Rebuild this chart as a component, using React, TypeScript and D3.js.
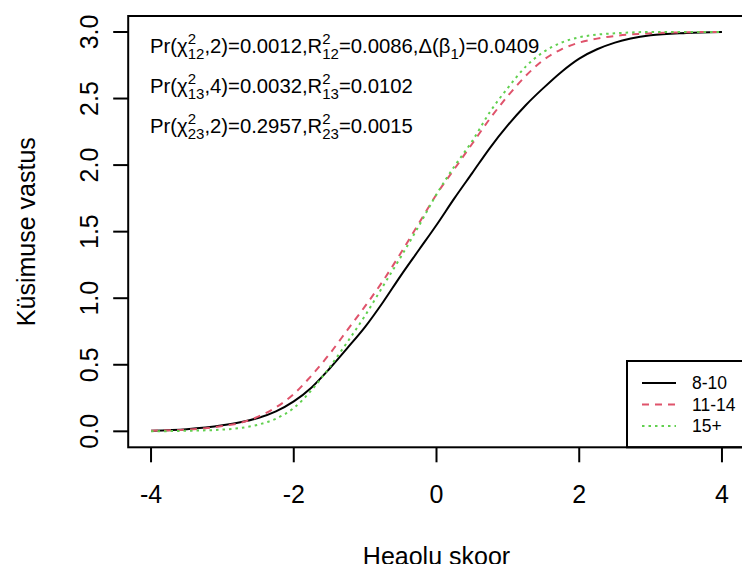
import React from "react";
import * as d3 from "d3";

const xGrid = [-4, -3.5, -3, -2.75, -2.5, -2.25, -2, -1.75, -1.5, -1.25, -1, -0.75, -0.5, -0.25, 0, 0.25, 0.5, 0.75, 1, 1.25, 1.5, 1.75, 2, 2.25, 2.5, 3, 3.5, 4];

const series810 = [0.005, 0.016, 0.045, 0.068, 0.1, 0.15, 0.225, 0.33, 0.47, 0.625, 0.785, 0.97, 1.17, 1.36, 1.55, 1.75, 1.94, 2.13, 2.3, 2.45, 2.58, 2.7, 2.8, 2.87, 2.92, 2.975, 2.993, 3.0];
const series1114 = [0.005, 0.012, 0.04, 0.063, 0.11, 0.18, 0.28, 0.42, 0.58, 0.76, 0.94, 1.13, 1.34, 1.56, 1.78, 1.97, 2.16, 2.35, 2.52, 2.67, 2.79, 2.87, 2.92, 2.95, 2.97, 2.99, 2.998, 3.0];
const series15 = [0.0, 0.004, 0.013, 0.025, 0.05, 0.095, 0.175, 0.31, 0.48, 0.67, 0.87, 1.09, 1.31, 1.54, 1.78, 1.99, 2.18, 2.4, 2.58, 2.74, 2.85, 2.92, 2.96, 2.98, 2.99, 3.0, 3.0, 3.0];

const seriesNames = ["8-10", "11-14", "15+"];
const seriesColors = ["#000000", "#DF536B", "#61D04F"];
const seriesDash = ["none", "7,6", "2.5,4"];

const xTicks = [-4, -2, 0, 2, 4];
const yTicks = [0, 0.5, 1, 1.5, 2, 2.5, 3];
const xLabel = "Heaolu skoor";
const yLabel = "Küsimuse vastus";

const FONT = "'Liberation Sans', Arial, Helvetica, sans-serif";

export default function App() {
  const W = 742, H = 564;
  const xDom = [-4, 4];
  const yDom = [0, 3];
  const xPad = (xDom[1] - xDom[0]) * 0.04;
  const yPad = (yDom[1] - yDom[0]) * 0.04;
  const left = 128.2, right = 744.8, top = 16, bottom = 447.3;
  const x = d3.scaleLinear().domain([xDom[0] - xPad, xDom[1] + xPad]).range([left, right]);
  const y = d3.scaleLinear().domain([yDom[0] - yPad, yDom[1] + yPad]).range([bottom, top]);

  const allSeries = [series810, series1114, series15];
  const line = d3
    .line<[number, number]>()
    .x((d) => x(d[0]))
    .y((d) => y(d[1]))
    .curve(d3.curveMonotoneX);

  const supSize = 15;
  const mainSize = 20.3;
  const supW = 0.556 * supSize;

  const Chi = ({ sub }: { sub: string }) => (
    <>
      <tspan>χ</tspan>
      <tspan fontSize={supSize} dy={-9}>2</tspan>
      <tspan fontSize={supSize} dx={-supW} dy={15}>{sub}</tspan>
      <tspan dy={-6}>,</tspan>
    </>
  );
  const R2 = ({ sub }: { sub: string }) => (
    <>
      <tspan>R</tspan>
      <tspan fontSize={supSize} dy={-9}>2</tspan>
      <tspan fontSize={supSize} dx={-supW} dy={15}>{sub}</tspan>
      <tspan dy={-6}>=</tspan>
    </>
  );

  const legendTop = 361;
  const legendRows = [383, 404.5, 426];

  return (
    <div style={{ position: "absolute", left: 0, top: 0, width: W, height: H, background: "#fff" }}>
      <svg width={W} height={H} style={{ display: "block" }} fontFamily={FONT}>
        <rect x={0} y={0} width={W} height={H} fill="#fff" />
        {allSeries.map((s, i) => (
          <path
            key={i}
            d={line(xGrid.map((xv, j) => [xv, s[j]] as [number, number])) || ""}
            fill="none"
            stroke={seriesColors[i]}
            strokeWidth={2}
            strokeDasharray={seriesDash[i]}
          />
        ))}
        <rect x={left} y={top} width={right - left} height={bottom - top} fill="none" stroke="#000" strokeWidth={2} />
        {xTicks.map((t) => (
          <g key={t}>
            <line x1={x(t)} x2={x(t)} y1={bottom} y2={bottom + 15} stroke="#000" strokeWidth={2} />
            <text x={x(t)} y={503} fontSize={25} textAnchor="middle">{t}</text>
          </g>
        ))}
        {yTicks.map((t) => (
          <g key={t}>
            <line x1={left} x2={left - 15} y1={y(t)} y2={y(t)} stroke="#000" strokeWidth={2} />
            <text transform={`translate(98,${y(t)}) rotate(-90)`} fontSize={25} textAnchor="middle">{t.toFixed(1)}</text>
          </g>
        ))}
        <text x={(left + right) / 2} y={565} fontSize={25} textAnchor="middle">{xLabel}</text>
        <text transform={`translate(35,${(top + bottom) / 2}) rotate(-90)`} fontSize={25} textAnchor="middle">{yLabel}</text>

        <text x={150} y={53} fontSize={mainSize}>
          <tspan>Pr(</tspan>
          <Chi sub="12" />
          <tspan>2)=0.0012,</tspan>
          <R2 sub="12" />
          <tspan>0.0086,Δ(β</tspan>
          <tspan fontSize={supSize} dy={6}>1</tspan>
          <tspan dy={-6}>)=0.0409</tspan>
        </text>
        <text x={150} y={93} fontSize={mainSize}>
          <tspan>Pr(</tspan>
          <Chi sub="13" />
          <tspan>4)=0.0032,</tspan>
          <R2 sub="13" />
          <tspan>0.0102</tspan>
        </text>
        <text x={150} y={133} fontSize={mainSize}>
          <tspan>Pr(</tspan>
          <Chi sub="23" />
          <tspan>2)=0.2957,</tspan>
          <R2 sub="23" />
          <tspan>0.0015</tspan>
        </text>

        <rect x={627} y={legendTop} width={200} height={bottom - legendTop} fill="none" stroke="#000" strokeWidth={2} />
        {seriesNames.map((n, i) => (
          <g key={n}>
            <line x1={642} x2={676} y1={legendRows[i]} y2={legendRows[i]} stroke={seriesColors[i]} strokeWidth={2} strokeDasharray={seriesDash[i]} />
            <text x={692} y={legendRows[i]} fontSize={17.5} dominantBaseline="central">{n}</text>
          </g>
        ))}
      </svg>
    </div>
  );
}
